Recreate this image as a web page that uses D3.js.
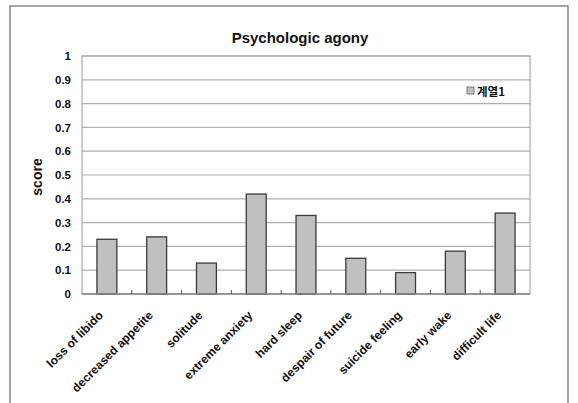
<!DOCTYPE html>
<html><head><meta charset="utf-8">
<script src="https://cdn.jsdelivr.net/npm/d3@7"></script>
<style>body{margin:0;background:#fff}svg{display:block}text{font-family:"Liberation Sans",Arial,sans-serif;font-weight:bold;fill:#111}</style>
</head><body><svg id="c" width="578" height="403"></svg>
<script>
const categories = ["loss of libido","decreased appetite","solitude","extreme anxiety","hard sleep","despair of future","suicide feeling","early wake","difficult life"];
const values = [0.23,0.24,0.13,0.42,0.33,0.15,0.09,0.18,0.34];
const yTicks = [0,0.1,0.2,0.3,0.4,0.5,0.6,0.7,0.8,0.9,1];
const seriesName = "계열1";
const title = "Psychologic agony";
const yLabel = "score";

const svg = d3.select("#c");
const m = {l:82, r:530, t:56, b:294};
// outer frame
svg.append("rect").attr("x",10).attr("y",6).attr("width",558).attr("height",410)
  .attr("fill","none").attr("stroke","#858585").attr("stroke-width",1.5);

const x = d3.scaleBand().domain(categories).range([m.l,m.r]).paddingInner(0.6).paddingOuter(0.3);
const xb = d3.scaleBand().domain(categories).range([m.l,m.r]);
const y = d3.scaleLinear().domain([0,1]).range([m.b,m.t]);

// gridlines
svg.append("g").selectAll("line").data(yTicks.slice(1)).join("line")
  .attr("x1",m.l).attr("x2",m.r).attr("y1",d=>y(d)).attr("y2",d=>y(d))
  .attr("stroke","#b0b0b0").attr("stroke-width",1.2);
// plot border
svg.append("rect").attr("x",m.l).attr("y",m.t).attr("width",m.r-m.l).attr("height",m.b-m.t)
  .attr("fill","none").attr("stroke","#a8a8a8").attr("stroke-width",1.2);

// y axis labels
const ya = svg.append("g").attr("transform",`translate(${m.l},0)`)
  .call(d3.axisLeft(y).tickValues(yTicks).tickSize(0).tickPadding(11).tickFormat(d=>String(d)));
ya.select(".domain").remove();
ya.selectAll("text").style("font-size","11.5px").style("font-family","'Liberation Sans',Arial,sans-serif").style("font-weight","bold").attr("fill","#111");

// bars
svg.append("g").selectAll("rect").data(values).join("rect")
  .attr("x",(d,i)=>x(categories[i])).attr("width",x.bandwidth())
  .attr("y",d=>y(d)).attr("height",d=>y(0)-y(d))
  .attr("fill","#c0c0c0").attr("stroke","#3a3a3a").attr("stroke-width",1.3);

// x axis line and ticks
svg.append("line").attr("x1",m.l).attr("x2",m.r).attr("y1",m.b).attr("y2",m.b).attr("stroke","#858585").attr("stroke-width",1.3);
svg.append("g").selectAll("line").data(categories.slice(1)).join("line")
  .attr("x1",d=>xb(d)).attr("x2",d=>xb(d)).attr("y1",m.b).attr("y2",m.b-4)
  .attr("stroke","#555").attr("stroke-width",1);

// x labels
svg.append("g").selectAll("text").data(categories).join("text")
  .attr("transform",d=>`translate(${xb(d)+xb.bandwidth()/2-3},${m.b+22}) rotate(-45)`)
  .attr("text-anchor","end").style("font-size","12px").text(d=>d);

// title
svg.append("text").attr("x",300).attr("y",43).attr("text-anchor","middle").style("font-size","15px").text(title);
// y label
svg.append("text").attr("transform","translate(42,177) rotate(-90)").attr("text-anchor","middle").style("font-size","14px").text(yLabel);

// legend
svg.append("rect").attr("x",467).attr("y",87).attr("width",7).attr("height",7).attr("fill","#c0c0c0").attr("stroke","#666").attr("stroke-width",0.8);
svg.append("text").attr("x",477).attr("y",95.5).style("font-size","11.5px").style("font-family","'Noto Sans CJK KR',sans-serif").text(seriesName);
</script></body></html>
